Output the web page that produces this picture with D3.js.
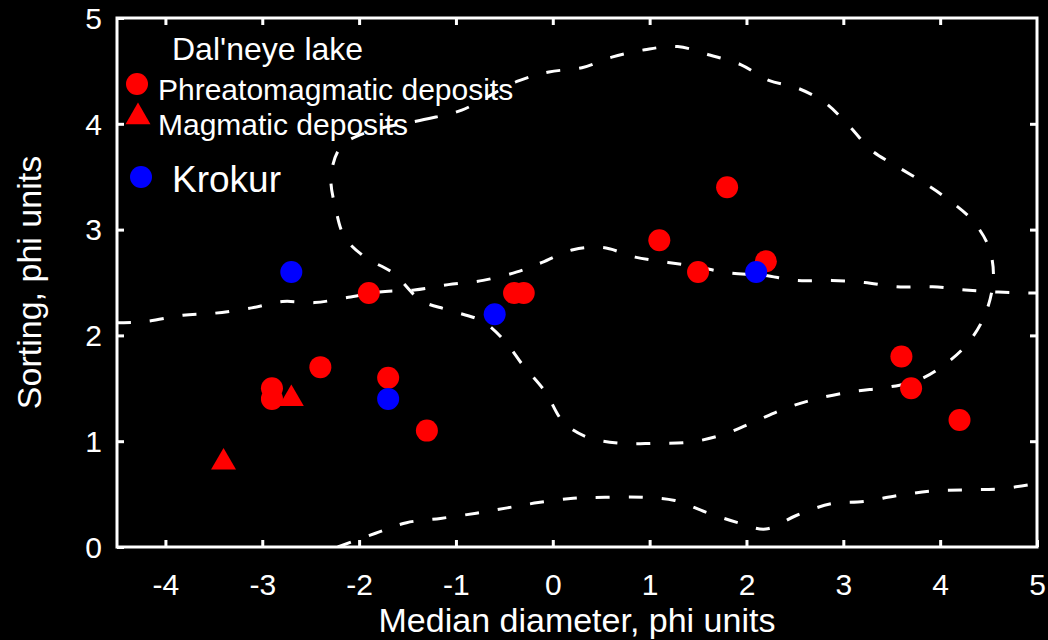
<!DOCTYPE html>
<html>
<head>
<meta charset="utf-8">
<script src="https://cdn.jsdelivr.net/npm/d3@7"></script>
<style>
  html, body { margin: 0; padding: 0; background: #000; }
  svg { display: block; font-family: "Liberation Sans", Arial, sans-serif; }
</style>
</head>
<body>
<div id="chart"></div>
<script>
// ticks
const xTicks = [-4, -3, -2, -1, 0, 1, 2, 3, 4, 5];
const yTicks = [0, 1, 2, 3, 4, 5];

// Dal'neye lake samples [median diameter, sorting]
const phreatomagmatic = [
  [-2.9, 1.5], [-2.9, 1.4], [-2.4, 1.7], [-1.9, 2.4], [-1.7, 1.6], [-1.3, 1.1],
  [-0.4, 2.4], [-0.3, 2.4], [1.1, 2.9], [1.5, 2.6], [1.8, 3.4], [2.2, 2.7],
  [3.6, 1.8], [3.7, 1.5], [4.2, 1.2]
];
const magmatic = [[-3.4, 0.8], [-2.7, 1.4]];

// Krokur samples
const krokur = [[-2.7, 2.6], [-1.7, 1.4], [-0.6, 2.2], [2.1, 2.6]];

// dashed field boundaries
const fieldLoop = [
  [-1.92, 3.92], [-1.33, 4.04], [-0.94, 4.13], [-0.37, 4.40], [-0.04, 4.49], [0.30, 4.53],
  [0.61, 4.63], [0.95, 4.70], [1.29, 4.73], [1.62, 4.65], [1.94, 4.56], [2.23, 4.41],
  [2.52, 4.34], [2.81, 4.20], [3.07, 3.97], [3.29, 3.75], [3.53, 3.61], [3.82, 3.45],
  [4.09, 3.28], [4.33, 3.09], [4.50, 2.84], [4.55, 2.55], [4.47, 2.21], [4.29, 1.93],
  [4.04, 1.72], [3.78, 1.58], [3.46, 1.51], [3.10, 1.47], [2.72, 1.40], [2.40, 1.31],
  [2.07, 1.18], [1.75, 1.06], [1.41, 0.99], [1.05, 0.98], [0.70, 0.98], [0.35, 1.04],
  [0.11, 1.18], [-0.08, 1.47], [-0.31, 1.72], [-0.49, 1.94], [-0.72, 2.13], [-1.08, 2.24],
  [-1.36, 2.33], [-1.65, 2.59], [-1.94, 2.74], [-2.15, 2.93], [-2.24, 3.19], [-2.29, 3.50],
  [-2.19, 3.78]
];
const fieldMiddle = [
  [-4.5, 2.12], [-4.21, 2.13], [-3.82, 2.19], [-3.49, 2.21], [-3.11, 2.26], [-2.79, 2.32],
  [-2.46, 2.31], [-2.11, 2.36], [-1.79, 2.41], [-1.43, 2.43], [-1.08, 2.48], [-0.72, 2.52],
  [-0.37, 2.60], [-0.11, 2.69], [0.21, 2.81], [0.52, 2.83], [0.85, 2.74], [1.19, 2.69],
  [1.48, 2.65], [1.82, 2.59], [2.16, 2.57], [2.52, 2.52], [2.88, 2.52], [3.22, 2.50],
  [3.55, 2.46], [3.92, 2.46], [4.26, 2.43], [4.60, 2.41], [5.0, 2.40]
];
const fieldBottom = [
  [-2.22, 0.0], [-1.83, 0.13], [-1.51, 0.23], [-1.16, 0.27], [-0.79, 0.32], [-0.47, 0.37],
  [-0.15, 0.42], [0.21, 0.46], [0.54, 0.47], [0.93, 0.47], [1.26, 0.44], [1.58, 0.33],
  [1.91, 0.23], [2.20, 0.17], [2.52, 0.30], [2.88, 0.41], [3.21, 0.43], [3.58, 0.49],
  [3.93, 0.53], [4.28, 0.54], [4.62, 0.55], [5.0, 0.60]
];

const width = 1048;
const height = 640;
const margin = { top: 18, right: 11, bottom: 93, left: 117 };

const svg = d3.select('#chart')
  .append('svg')
  .attr('width', width)
  .attr('height', height);

svg.append('rect')
  .attr('width', width)
  .attr('height', height)
  .attr('fill', '#000');

const x = d3.scaleLinear()
  .domain([-4.5, 5])
  .range([margin.left, width - margin.right]);

const y = d3.scaleLinear()
  .domain([0, 5])
  .range([height - margin.bottom, margin.top]);

svg.append('clipPath')
  .attr('id', 'plot-clip')
  .append('rect')
  .attr('x', x.range()[0])
  .attr('y', y.range()[1])
  .attr('width', x.range()[1] - x.range()[0])
  .attr('height', y.range()[0] - y.range()[1]);

// dashed boundaries
const line = d3.line()
  .x(d => x(d[0]))
  .y(d => y(d[1]))
  .curve(d3.curveCatmullRom);

const loopLine = d3.line()
  .x(d => x(d[0]))
  .y(d => y(d[1]))
  .curve(d3.curveCatmullRomClosed);

const fields = svg.append('g')
  .attr('clip-path', 'url(#plot-clip)')
  .attr('fill', 'none')
  .attr('stroke', '#fff')
  .attr('stroke-width', 3)
  .attr('stroke-dasharray', '14,19');

fields.append('path').attr('d', loopLine(fieldLoop));
fields.append('path').attr('d', line(fieldMiddle));
fields.append('path').attr('d', line(fieldBottom));

// axes
const fontSize = 30;
const tickLen = 7;
const fmt = d => String(d);

const xAxis = svg.append('g')
  .attr('transform', `translate(0, ${y(0)})`)
  .call(d3.axisBottom(x).tickValues(xTicks).tickFormat(fmt)
    .tickSizeInner(-tickLen).tickSizeOuter(0).tickPadding(27));

const xAxisTop = svg.append('g')
  .attr('transform', `translate(0, ${y(5)})`)
  .call(d3.axisTop(x).tickValues(xTicks.filter(d => d < 5)).tickFormat('')
    .tickSizeInner(-tickLen).tickSizeOuter(0));

const yAxis = svg.append('g')
  .attr('transform', `translate(${x(-4.5)}, 0)`)
  .call(d3.axisLeft(y).tickValues(yTicks).tickFormat(fmt)
    .tickSizeInner(-tickLen).tickSizeOuter(0).tickPadding(15));

const yAxisRight = svg.append('g')
  .attr('transform', `translate(${x(5)}, 0)`)
  .call(d3.axisRight(y).tickValues(yTicks.filter(d => d > 0 && d < 5)).tickFormat('')
    .tickSizeInner(-tickLen).tickSizeOuter(0));

[xAxis, xAxisTop, yAxis, yAxisRight].forEach(g => {
  g.select('.domain').remove();
  g.selectAll('.tick line').attr('stroke', '#fff').attr('stroke-width', 3);
  g.selectAll('.tick text')
    .attr('fill', '#fff')
    .attr('font-size', fontSize)
    .attr('font-family', '"Liberation Sans", Arial, sans-serif');
});
yAxis.selectAll('.tick text').attr('dy', '0.34em');

svg.append('rect')
  .attr('x', x(-4.5))
  .attr('y', y(5))
  .attr('width', x(5) - x(-4.5))
  .attr('height', y(0) - y(5))
  .attr('fill', 'none')
  .attr('stroke', '#fff')
  .attr('stroke-width', 3);

// axis titles
svg.append('text')
  .attr('x', (x(-4.5) + x(5)) / 2)
  .attr('y', 632)
  .attr('text-anchor', 'middle')
  .attr('fill', '#fff')
  .attr('font-size', 34)
  .text('Median diameter, phi units');

svg.append('text')
  .attr('transform', `translate(41, ${(y(0) + y(5)) / 2}) rotate(-90)`)
  .attr('text-anchor', 'middle')
  .attr('fill', '#fff')
  .attr('font-size', 34)
  .text('Sorting, phi units');

// points
const r = 11;
const tri = d3.symbol().type(d3.symbolTriangle).size(270);

svg.append('g')
  .selectAll('circle')
  .data(phreatomagmatic)
  .join('circle')
  .attr('cx', d => x(d[0]))
  .attr('cy', d => y(d[1]))
  .attr('r', r)
  .attr('fill', '#ff0000');

svg.append('g')
  .selectAll('path')
  .data(magmatic)
  .join('path')
  .attr('d', tri)
  .attr('transform', d => `translate(${x(d[0])}, ${y(d[1])})`)
  .attr('fill', '#ff0000');

svg.append('g')
  .selectAll('circle')
  .data(krokur)
  .join('circle')
  .attr('cx', d => x(d[0]))
  .attr('cy', d => y(d[1]))
  .attr('r', r)
  .attr('fill', '#0000ff');

// legend
const legend = svg.append('g').attr('fill', '#fff');

legend.append('text')
  .attr('x', 172).attr('y', 60)
  .attr('font-size', 32)
  .text("Dal'neye lake");

legend.append('circle')
  .attr('cx', 137).attr('cy', 84).attr('r', r)
  .attr('fill', '#ff0000');
legend.append('text')
  .attr('x', 158).attr('y', 100)
  .attr('font-size', 30)
  .text('Phreatomagmatic deposits');

legend.append('path')
  .attr('d', tri)
  .attr('transform', 'translate(138, 117)')
  .attr('fill', '#ff0000');
legend.append('text')
  .attr('x', 158).attr('y', 135)
  .attr('font-size', 30)
  .text('Magmatic deposits');

legend.append('circle')
  .attr('cx', 141).attr('cy', 177).attr('r', r)
  .attr('fill', '#0000ff');
legend.append('text')
  .attr('x', 172).attr('y', 192)
  .attr('font-size', 37)
  .text('Krokur');
</script>
</body>
</html>
